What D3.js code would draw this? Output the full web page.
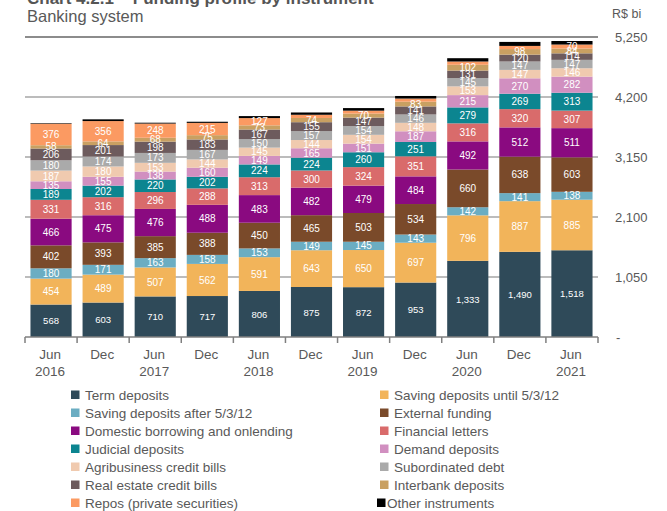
<!DOCTYPE html>
<html>
<head>
<meta charset="utf-8">
<script src="https://cdn.jsdelivr.net/npm/d3@7"></script>
<style>
  html, body { margin: 0; padding: 0; background: #fff; }
  svg { display: block; font-family: "Liberation Sans", Arial, sans-serif; }
</style>
</head>
<body>
<svg id="chart" width="667" height="511"></svg>
<script>
// Funding profile of the banking system, R$ billion
const periods = ["Jun|2016", "Dec", "Jun|2017", "Dec", "Jun|2018", "Dec", "Jun|2019", "Dec", "Jun|2020", "Dec", "Jun|2021"];

const seriesNames = [
  "Term deposits", "Saving deposits until 5/3/12", "Saving deposits after 5/3/12", "External funding",
  "Domestic borrowing and onlending", "Financial letters", "Judicial deposits", "Demand deposits",
  "Agribusiness credit bills", "Subordinated debt", "Real estate credit bills", "Interbank deposits",
  "Repos (private securities)", "Other instruments"
];

const termDeposits      = [568, 603, 710, 717, 806, 875, 872, 953, 1333, 1490, 1518];
const savingUntil       = [454, 489, 507, 562, 591, 643, 650, 697, 796, 887, 885];
const savingAfter       = [180, 171, 163, 158, 153, 149, 145, 143, 142, 141, 138];
const externalFunding   = [402, 393, 385, 388, 450, 465, 503, 534, 660, 638, 603];
const domesticBorrowing = [466, 475, 476, 488, 483, 482, 479, 484, 492, 512, 511];
const financialLetters  = [331, 316, 296, 288, 313, 300, 324, 351, 316, 320, 307];
const judicialDeposits  = [189, 202, 220, 202, 224, 224, 260, 251, 279, 269, 313];
const demandDeposits    = [135, 155, 138, 160, 149, 165, 151, 187, 215, 270, 282];
const agribusinessBills = [187, 180, 153, 144, 145, 144, 154, 148, 153, 147, 146];
const subordinatedDebt  = [180, 174, 173, 167, 150, 157, 154, 146, 145, 147, 147];
const realEstateBills   = [206, 201, 198, 183, 167, 155, 147, 141, 131, 120, 114];
const interbankDeposits = [58, 64, 68, 75, 73, 74, 70, 83, 102, 98, 84];
const repos             = [376, 356, 248, 215, 127, 56, 52, 55, 57, 55, 70];
const otherInstruments  = [10, 30, 15, 20, 35, 40, 45, 45, 58, 70, 62];

const seriesValues = [
  termDeposits, savingUntil, savingAfter, externalFunding, domesticBorrowing, financialLetters,
  judicialDeposits, demandDeposits, agribusinessBills, subordinatedDebt, realEstateBills,
  interbankDeposits, repos, otherInstruments
];

const colors = [
  "#2f4a59", "#f2b45a", "#6badc2", "#7a4a2a", "#8a0a80", "#d96b6b", "#0c8590",
  "#d18fc0", "#f0caaf", "#aaaaaa", "#6d5b5d", "#c9a062", "#fb9a62", "#000000"
];

const yTicks = [0, 1050, 2100, 3150, 4200, 5250];
const yTickLabels = ["-", "1,050", "2,100", "3,150", "4,200", "5,250"];

// Segments below this size carry no value label
const minLabelValue = 58;

// Build rows for the stack layout
const rows = periods.map((p, i) => {
  const r = { period: i };
  seriesNames.forEach((s, k) => { r[s] = seriesValues[k][i]; });
  return r;
});

const svg = d3.select("#chart");
const plotLeft = 25, plotRight = 598, plotTop = 37, plotBottom = 337;

const x = d3.scaleBand()
  .domain(d3.range(periods.length))
  .range([plotLeft, plotRight])
  .paddingInner(0.21)
  .paddingOuter(0.105);

const y = d3.scaleLinear().domain([0, 5250]).range([plotBottom, plotTop]);

const stack = d3.stack().keys(seriesNames);
const layers = stack(rows);

// Titles
svg.append("text")
  .attr("x", 27).attr("y", 4)
  .attr("font-size", 17).attr("font-weight", "bold").attr("fill", "#555")
  .text("Chart 4.2.1 – Funding profile by instrument");
svg.append("text")
  .attr("x", 27).attr("y", 22)
  .attr("font-size", 16.5).attr("fill", "#595959")
  .text("Banking system");
svg.append("text")
  .attr("x", 612).attr("y", 18)
  .attr("font-size", 12.5).attr("fill", "#595959")
  .text("R$ bi");

// Gridlines
svg.append("g").selectAll("line")
  .data(yTicks.filter(d => d > 0))
  .join("line")
  .attr("x1", plotLeft).attr("x2", plotRight)
  .attr("y1", d => y(d)).attr("y2", d => y(d))
  .attr("stroke", d => d === 5250 ? "#8c8c8c" : "#a6a6a6")
  .attr("stroke-width", d => d === 5250 ? 2 : 1.4);

// Y tick labels on the right
svg.append("g").selectAll("text")
  .data(yTicks)
  .join("text")
  .attr("x", (d, i) => i === 0 ? 616 : 615)
  .attr("y", d => y(d) + 4.5)
  .attr("font-size", 13).attr("fill", "#595959")
  .text((d, i) => yTickLabels[i]);

// Stacked bars
const gLayers = svg.append("g").selectAll("g")
  .data(layers)
  .join("g")
  .attr("fill", (d, i) => colors[i]);

gLayers.selectAll("rect")
  .data(d => d)
  .join("rect")
  .attr("x", d => x(d.data.period))
  .attr("width", x.bandwidth())
  .attr("y", d => y(d[1]))
  .attr("height", d => y(d[0]) - y(d[1]));

// Segment value labels (all except "Other instruments")
const gLabels = svg.append("g")
  .attr("fill", "#ffffff").attr("text-anchor", "middle");
layers.forEach((layer, k) => {
  if (k === layers.length - 1) return;
  gLabels.selectAll(null)
    .data(layer.filter(d => d[1] - d[0] >= minLabelValue))
    .join("text")
    .attr("x", d => x(d.data.period) + x.bandwidth() / 2)
    .attr("y", d => (y(d[0]) + y(d[1])) / 2 + 3.6)
    .attr("font-size", k === 0 ? 9.5 : 10)
    .text(d => d3.format(",")(d[1] - d[0]));
});

// X axis line and ticks at band boundaries
svg.append("line")
  .attr("x1", plotLeft).attr("x2", plotRight)
  .attr("y1", plotBottom).attr("y2", plotBottom)
  .attr("stroke", "#7f7f7f").attr("stroke-width", 1.5);
svg.append("g").selectAll("line")
  .data(d3.range(periods.length + 1))
  .join("line")
  .attr("x1", i => plotLeft + i * x.step()).attr("x2", i => plotLeft + i * x.step())
  .attr("y1", plotBottom).attr("y2", plotBottom + 6)
  .attr("stroke", "#7f7f7f").attr("stroke-width", 1.5);

// X category labels
const xl = svg.append("g").attr("font-size", 13.5).attr("fill", "#595959").attr("text-anchor", "middle");
periods.forEach((p, i) => {
  const parts = p.split("|");
  const cx = x(i) + x.bandwidth() / 2 - 1;
  const t = xl.append("text").attr("x", cx).attr("y", 359);
  t.append("tspan").attr("x", cx).text(parts[0]);
  if (parts[1]) t.append("tspan").attr("x", cx).attr("dy", 17).text(parts[1]);
});

// Legend in two columns
const legend = svg.append("g").attr("font-size", 13.5).attr("fill", "#595959");
seriesNames.forEach((s, k) => {
  const col = k % 2, row = Math.floor(k / 2);
  const isOther = k === seriesNames.length - 1;
  const sx = col === 0 ? 71 : (isOther ? 377 : 380);
  const ty = 395 + row * 18;
  legend.append("rect")
    .attr("x", sx).attr("y", ty - 4.5).attr("width", 8.5).attr("height", 8.5)
    .attr("fill", colors[k]);
  legend.append("text")
    .attr("x", sx + (isOther ? 10 : 14)).attr("y", ty + 5)
    .text(s);
});
</script>
</body>
</html>
